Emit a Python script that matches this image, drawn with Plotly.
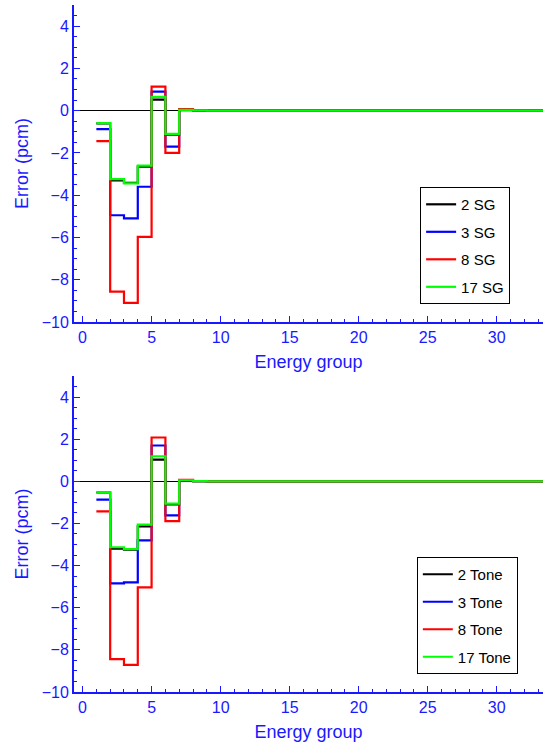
import plotly.graph_objects as go

groups = list(range(1, 34))

# Top panel (SG)
sg2 = [-0.60, -3.30, -3.42, -2.65, 0.52, -1.13, 0.03, 0.01] + [0.0] * 25
sg3 = [-0.87, -4.95, -5.10, -3.60, 0.90, -1.70, 0.04, 0.01] + [0.0] * 25
sg8 = [-1.44, -8.56, -9.10, -5.97, 1.14, -2.00, 0.07, 0.01] + [0.0] * 25
sg17 = [-0.59, -3.24, -3.44, -2.60, 0.65, -1.10, 0.04, 0.01] + [0.0] * 25

# Bottom panel (Tone)
tn2 = [-0.53, -3.20, -3.24, -2.14, 1.03, -1.10, 0.04, 0.01] + [0.0] * 25
tn3 = [-0.87, -4.84, -4.80, -2.80, 1.70, -1.62, 0.04, 0.01] + [0.0] * 25
tn8 = [-1.43, -8.44, -8.71, -5.03, 2.08, -1.89, 0.07, 0.01] + [0.0] * 25
tn17 = [-0.52, -3.13, -3.22, -2.06, 1.19, -1.06, 0.05, 0.01] + [0.0] * 25

sg_names = ["2 SG", "3 SG", "8 SG", "17 SG"]
tone_names = ["2 Tone", "3 Tone", "8 Tone", "17 Tone"]
colors = ["#000000", "#0000ff", "#ff0000", "#00ff00"]

AX = "rgb(25,25,255)"
FONT = "Liberation Sans, Arial, sans-serif"

fig = go.Figure()

def step(vals):
    x = groups + [groups[-1] + 1]
    y = vals + [vals[-1]]
    return x, y

for i, (vals, name) in enumerate(zip([sg2, sg3, sg8, sg17], sg_names)):
    x, y = step(vals)
    fig.add_trace(go.Scatter(x=x, y=y, mode="lines", line=dict(color=colors[i], width=2.2, shape="hv"),
                             name=name, xaxis="x", yaxis="y", legend="legend", legendgroup="a%d" % i))
for i, (vals, name) in enumerate(zip([tn2, tn3, tn8, tn17], tone_names)):
    x, y = step(vals)
    fig.add_trace(go.Scatter(x=x, y=y, mode="lines", line=dict(color=colors[i], width=2.2, shape="hv"),
                             name=name, xaxis="x2", yaxis="y2", legend="legend2", legendgroup="b%d" % i))

def xax(anchor):
    return dict(anchor=anchor, range=[-0.62, 33.35], showgrid=False, zeroline=False, automargin=False,
                showline=True, linecolor=AX, linewidth=2,
                ticks="inside", ticklen=6, tickwidth=1, tickcolor=AX,
                tickvals=[0, 5, 10, 15, 20, 25, 30],
                minor=dict(dtick=1, tick0=0, ticks="inside", ticklen=3, tickcolor=AX),
                tickfont=dict(color=AX, size=16, family=FONT),
                title=dict(text="Energy group", font=dict(color=AX, size=18, family=FONT), standoff=10))

def yax(anchor, dom):
    return dict(anchor=anchor, domain=dom, range=[-10, 5], showgrid=False, automargin=False,
                zeroline=True, zerolinecolor="black", zerolinewidth=1,
                showline=True, linecolor=AX, linewidth=2,
                ticks="inside", ticklen=6, tickwidth=1, tickcolor=AX,
                tickvals=[-10, -8, -6, -4, -2, 0, 2, 4],
                minor=dict(dtick=0.5, tick0=0, ticks="inside", ticklen=3, tickcolor=AX),
                tickfont=dict(color=AX, size=16, family=FONT),
                title=dict(text="Error (pcm)", font=dict(color=AX, size=18, family=FONT), standoff=8))

leg = dict(bgcolor="white", bordercolor="black", borderwidth=1,
           font=dict(size=15, family=FONT, color="black"),
           traceorder="grouped", tracegroupgap=5, xanchor="left", yanchor="top")

fig.update_layout(
    width=547, height=744,
    margin=dict(l=74, r=4, t=5, b=52),
    paper_bgcolor="white", plot_bgcolor="white",
    showlegend=True,
    xaxis=xax("y"),
    yaxis=yax("x", [0.5386, 1.0]),
    xaxis2=xax("y2"),
    yaxis2=yax("x2", [0.0, 0.46]),
    legend=dict(leg, x=0.738, y=0.735),
    legend2=dict(leg, x=0.731, y=0.1965),
)

fig.write_html("out.html", config={"displayModeBar": False},
               post_script="document.body.style.margin='0';")
